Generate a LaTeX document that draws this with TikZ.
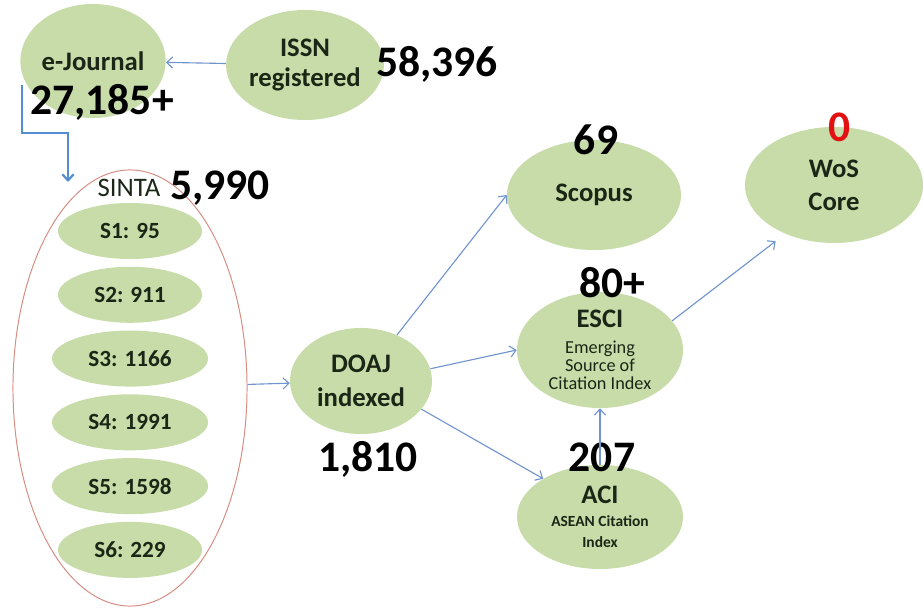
\documentclass[tikz,border=0pt]{standalone}
\usepackage{fontspec}
\setmainfont{Carlito}
\usetikzlibrary{positioning, arrows.meta, shapes.geometric}
\definecolor{leafgreen}{RGB}{199,220,168}
\definecolor{inkdark}{RGB}{28,38,22}
\definecolor{linkblue}{RGB}{112,148,206}
\definecolor{flowblue}{RGB}{84,142,210}
\definecolor{rimred}{RGB}{214,140,128}
\definecolor{zerored}{RGB}{226,18,18}
\newcommand\subline{\fontsize{13}{12}\selectfont\mdseries}
\newcommand\tinyline{\fontsize{11}{13}\selectfont}

\begin{document}
\begin{tikzpicture}[
  x=0.025cm, y=-0.025cm,
  node distance=0.18cm,
  bubble/.style={
    ellipse, fill=leafgreen, inner sep=0pt, align=center,
    text=inkdark, font=\fontsize{19}{21}\selectfont\bfseries
  },
  tier/.style={bubble, minimum height=1.4cm,
    font=\fontsize{16.5}{18}\selectfont\bfseries},
  count/.style={anchor=base, inner sep=0pt, text=black,
    font=\fontsize{31}{33}\selectfont\bfseries},
  link/.style={-{Straight Barb[length=1.5mm,width=2.8mm]},
    line width=0.8pt, color=linkblue},
  linkbold/.style={link, line width=1.6pt, color=flowblue}
]
  \useasboundingbox (0,0) rectangle (923,609);

  % registration
  \node[bubble, minimum width=3.5cm, minimum height=2.85cm] (ejournal) at (93,61) {e-Journal};
  \node[bubble, minimum width=3.6cm, minimum height=2.75cm] (issn) at (305,65) {ISSN\\registered};
  \node[count] (nejournal) at (102,115) {27,185+};
  \node[count] (nissn) at (437,77) {58,396};

  % SINTA ranks
  \node[ellipse, draw=rimred, line width=0.7pt, inner sep=0pt,
        minimum width=5.85cm, minimum height=10.9cm] (sinta) at (130,388) {};
  \node[anchor=base, inner sep=0pt, text=inkdark, font=\fontsize{19}{20}\selectfont] (lsinta) at (129,197) {SINTA};
  \node[count] (nsinta) at (220,200) {5,990};
  \node[tier, minimum width=3.6cm] (s1) at (130,231) {S1: 95};
  \node[tier, minimum width=3.6cm, below=of s1] (s2) {S2: 911};
  \node[tier, minimum width=3.9cm, below=of s2] (s3) {S3: 1166};
  \node[tier, minimum width=3.9cm, below=of s3] (s4) {S4: 1991};
  \node[tier, minimum width=3.9cm, below=of s4] (s5) {S5: 1598};
  \node[tier, minimum width=3.6cm, below=of s5] (s6) {S6: 229};
  \coordinate (sintain) at (68,182);

  % indexing services
  \node[bubble, minimum width=3.55cm, minimum height=2.65cm, font=\fontsize{19}{24}\selectfont\bfseries] (doaj) at (361,381) {DOAJ\\indexed};
  \node[count] (ndoaj) at (368,472) {1,810};
  \node[bubble, minimum width=4.35cm, minimum height=2.75cm] (scopus) at (594,195) {Scopus};
  \node[count] (nscopus) at (596,155) {69};
  \node[bubble, minimum width=4.15cm, minimum height=2.9cm] (esci) at (600,350)
    {ESCI\\[-3pt]\subline Emerging\\[-8pt]\subline Source of\\[-8pt]\subline Citation Index};
  \node[count] (nesci) at (612,298) {80+};
  \node[bubble, minimum width=4.15cm, minimum height=2.6cm] (aci) at (600,517)
    {ACI\\[-5pt]\tinyline ASEAN Citation\\[-6pt]\tinyline Index};
  \node[count] (naci) at (602,472) {207};
  \node[bubble, minimum width=4.45cm, minimum height=2.9cm, font=\fontsize{19}{23.5}\selectfont\bfseries] (wos) at (834,185) {WoS\\Core};
  \node[count, text=zerored] (nwos) at (840,142) {0};

  % flow
  \draw[link] (issn) -- (ejournal);
  \draw[linkbold] (ejournal.west) ++(2,24) -- ++(0,48) -| (sintain);
  \draw[link] (sinta) -- (doaj);
  \draw[link] (doaj.52) -- (scopus.west);
  \draw[link] (doaj.10) -- (esci.west);
  \draw[link] (doaj.-25) -- (aci.146);
  \draw[link] (aci.north) -- (esci.south);
  \draw[link, shorten >=0.3cm] (esci.22) -- (wos.225);
\end{tikzpicture}
\end{document}
